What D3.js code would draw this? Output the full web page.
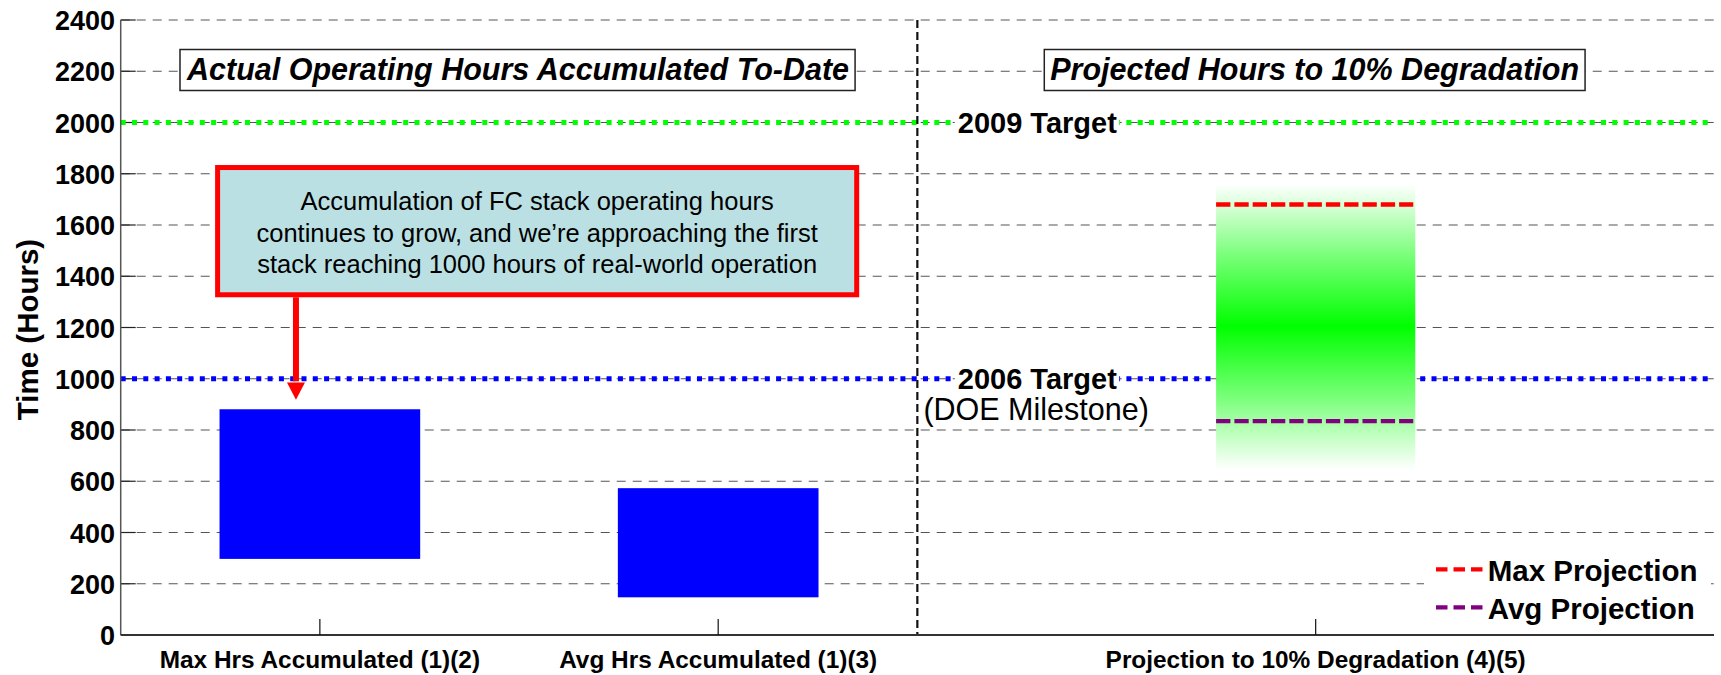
<!DOCTYPE html>
<html><head><meta charset="utf-8">
<script src="https://cdn.jsdelivr.net/npm/d3@7"></script>
<style>
html,body{margin:0;padding:0;background:#fff;}
svg{display:block;font-family:"Liberation Sans",Arial,Helvetica,sans-serif;}
</style>
</head><body>
<svg id="chart" width="1721" height="675"></svg>
<script>
// ---------------- DATA ----------------
const categories = ["Max Hrs Accumulated (1)(2)", "Avg Hrs Accumulated (1)(3)", "Projection to 10% Degradation (4)(5)"];
const accumulatedLow  = [300, 150, 0];
const accumulatedHigh = [878, 570, 0];
const projectionBand  = [645, 1760];   // faded green range
const projectionPeak  = 1205;          // most saturated green
const maxProjection   = 1680;
const avgProjection   = 835;
const targetValues = [2000, 1000];
const targetLabels = ["2009 Target", "2006 Target"];
const targetNote   = "(DOE Milestone)";
const yTicks = [0, 200, 400, 600, 800, 1000, 1200, 1400, 1600, 1800, 2000, 2200, 2400];
const sectionTitles = ["Actual Operating Hours Accumulated To-Date", "Projected Hours to 10% Degradation"];
const calloutLines = [
  "Accumulation of FC stack operating hours",
  "continues to grow, and we\u2019re approaching the first",
  "stack reaching 1000 hours of real-world operation"
];
const legendLabels = ["Max Projection", "Avg Projection"];
const yTitle = "Time (Hours)";

// ---------------- LAYOUT / STYLE ----------------
const barSlot = [1, 2, 3];
const labelSlot = [1, 2, 3.5];
const dividerSlot = 2.5;
const sectionSlot = [1.5, 3.5];
const barWidth = 0.5;
const targetColors = ["#00FF00", "#0000FF"];
const legendColors = ["#FF0000", "#800080"];

const svg = d3.select("#chart");
const x = d3.scaleLinear().domain([0.5, 4.5]).range([120.7, 1714]);
const y = d3.scaleLinear().domain([0, 2400]).range([635, 20]);
const X0 = x.range()[0], X1 = x.range()[1];

// gradient
const defs = svg.append("defs");
const grad = defs.append("linearGradient").attr("id", "projGrad")
  .attr("x1", 0).attr("y1", 0).attr("x2", 0).attr("y2", 1);
const peakFrac = (projectionBand[1] - projectionPeak) / (projectionBand[1] - projectionBand[0]);
[[0, "#ffffff"], [peakFrac * 0.18, "#d0ffd0"], [peakFrac * 0.5, "#7aff7a"], [peakFrac, "#00ff00"],
 [peakFrac + (1 - peakFrac) * 0.5, "#7aff7a"], [peakFrac + (1 - peakFrac) * 0.82, "#d0ffd0"], [1, "#ffffff"]]
  .forEach(([o, c]) => grad.append("stop").attr("offset", o).attr("stop-color", c));

// gridlines
svg.append("g").selectAll("line").data(yTicks.filter(d => d > 0)).join("line")
  .attr("x1", X0).attr("x2", X1).attr("y1", d => y(d)).attr("y2", d => y(d))
  .attr("stroke", "#555").attr("stroke-width", 1.2).attr("stroke-dasharray", "9,7");

// y inner ticks
svg.append("g").selectAll("line").data(yTicks).join("line")
  .attr("x1", X0).attr("x2", X0 + 15).attr("y1", d => y(d)).attr("y2", d => y(d))
  .attr("stroke", "#222").attr("stroke-width", 1.2);

// target lines
svg.append("g").selectAll("line").data(targetValues).join("line")
  .attr("x1", X0).attr("x2", X1).attr("y1", d => y(d)).attr("y2", d => y(d))
  .attr("stroke", (d, i) => targetColors[i]).attr("stroke-width", 5)
  .attr("stroke-dasharray", "5,6.3");

// divider
svg.append("line").attr("x1", x(dividerSlot)).attr("x2", x(dividerSlot))
  .attr("y1", y(2400)).attr("y2", y(0))
  .attr("stroke", "#111").attr("stroke-width", 2.2).attr("stroke-dasharray", "8,4");

// bars
svg.append("g").selectAll("rect").data(categories.map((c, i) => i)).join("rect")
  .attr("x", i => x(barSlot[i] - barWidth / 2))
  .attr("width", i => x(barSlot[i] + barWidth / 2) - x(barSlot[i] - barWidth / 2))
  .attr("y", i => y(accumulatedHigh[i]))
  .attr("height", i => y(accumulatedLow[i]) - y(accumulatedHigh[i]))
  .attr("fill", "#0000FF").attr("stroke", "#0000FF").attr("stroke-width", 1.5);

// projection band
const pL = x(labelSlot[2] - barWidth / 2), pR = x(labelSlot[2] + barWidth / 2);
svg.append("rect").attr("x", pL).attr("width", pR - pL)
  .attr("y", y(projectionBand[1])).attr("height", y(projectionBand[0]) - y(projectionBand[1]))
  .attr("fill", "url(#projGrad)");
svg.append("g").selectAll("line").data([maxProjection, avgProjection]).join("line")
  .attr("x1", pL).attr("x2", pR - 2).attr("y1", d => y(d)).attr("y2", d => y(d))
  .attr("stroke", (d, i) => legendColors[i]).attr("stroke-width", 4.3)
  .attr("stroke-dasharray", "14.3,4");

// axes lines
svg.append("line").attr("x1", X0).attr("x2", X0).attr("y1", y(2400)).attr("y2", y(0))
  .attr("stroke", "#555").attr("stroke-width", 1.5);
svg.append("line").attr("x1", X0).attr("x2", X1).attr("y1", y(0)).attr("y2", y(0))
  .attr("stroke", "#333").attr("stroke-width", 2);

// x ticks
svg.append("g").selectAll("line").data(labelSlot).join("line")
  .attr("x1", d => x(d)).attr("x2", d => x(d)).attr("y1", y(0)).attr("y2", y(0) - 16)
  .attr("stroke", "#111").attr("stroke-width", 1.2);

// y tick labels
svg.append("g").selectAll("text").data(yTicks).join("text")
  .attr("x", 115).attr("y", d => y(d) + 10).attr("text-anchor", "end")
  .attr("font-size", 27).attr("font-weight", "bold").attr("fill", "#000")
  .text(d => d);

// y title
svg.append("text").attr("transform", `translate(38,${(y(0) + y(2400)) / 2 + 2}) rotate(-90)`)
  .attr("text-anchor", "middle").attr("font-size", 29.5).attr("font-weight", "bold")
  .text(yTitle);

// category labels
svg.append("g").selectAll("text").data(categories).join("text")
  .attr("x", (d, i) => x(labelSlot[i])).attr("y", 668).attr("text-anchor", "middle")
  .attr("font-size", 24.4).attr("font-weight", "bold").text(d => d);

// target labels with white backgrounds
targetLabels.forEach((lab, i) => {
  const g = svg.append("g");
  const bg = g.append("rect").attr("fill", "#fff");
  const t = g.append("text").attr("x", 957.8).attr("y", y(targetValues[i]) + 10.3)
    .attr("font-size", 29).attr("font-weight", "bold").text(lab);
  const b = t.node().getBBox();
  bg.attr("x", b.x - 3).attr("y", y(targetValues[i]) - 4).attr("width", b.width + 5).attr("height", 8);
});
svg.append("text").attr("x", 923.4).attr("y", y(targetValues[1]) + 41.5)
  .attr("font-size", 30.5).text(targetNote);

// section title boxes
sectionTitles.forEach((s, i) => {
  const g = svg.append("g");
  const r = g.append("rect").attr("fill", "#fff").attr("stroke", "#222").attr("stroke-width", 1.5);
  const t = g.append("text").attr("x", x(sectionSlot[i]) - 1).attr("y", 80)
    .attr("text-anchor", "middle").attr("font-size", 30.5).attr("font-weight", "bold")
    .attr("font-style", "italic").text(s);
  const b = t.node().getBBox();
  r.attr("x", b.x - 6).attr("y", 49.5).attr("width", b.width + 12).attr("height", 41);
});

// callout
const cg = svg.append("g");
const cL = x(0.737), cR = x(2.354), cT = y(1834), cB = y(1318);
const arrowX = x(0.94);
cg.append("line").attr("x1", arrowX).attr("x2", arrowX).attr("y1", cB).attr("y2", y(990))
  .attr("stroke", "#FF0000").attr("stroke-width", 6);
cg.append("path").attr("d", `M${arrowX - 9},${y(985)} L${arrowX + 9},${y(985)} L${arrowX},${y(918)} Z`)
  .attr("fill", "#FF0000");
cg.append("rect").attr("x", cL + 2.5).attr("y", cT + 2.5).attr("width", cR - cL - 5).attr("height", cB - cT - 5)
  .attr("fill", "#BBE0E3").attr("stroke", "#FF0000").attr("stroke-width", 5);
cg.selectAll("text.cl").data(calloutLines).join("text").attr("class", "cl")
  .attr("x", (cL + cR) / 2).attr("y", (d, i) => 210 + i * 31.7).attr("text-anchor", "middle")
  .attr("font-size", 25.5).attr("fill", "#000").text(d => d);

// legend
const lg = svg.append("g");
lg.append("rect").attr("x", 1424).attr("y", 548).attr("width", 287).attr("height", 82).attr("fill", "#fff");
legendLabels.forEach((lab, i) => {
  const ly = 569.3 + i * 38;
  lg.append("line").attr("x1", 1436).attr("x2", 1482.7).attr("y1", ly).attr("y2", ly)
    .attr("stroke", legendColors[i]).attr("stroke-width", 4.3).attr("stroke-dasharray", "11.5,6");
  lg.append("text").attr("x", 1487.7).attr("y", ly + 11.5).attr("font-size", 29.5)
    .attr("font-weight", "bold").text(lab);
});
</script>
</body></html>
